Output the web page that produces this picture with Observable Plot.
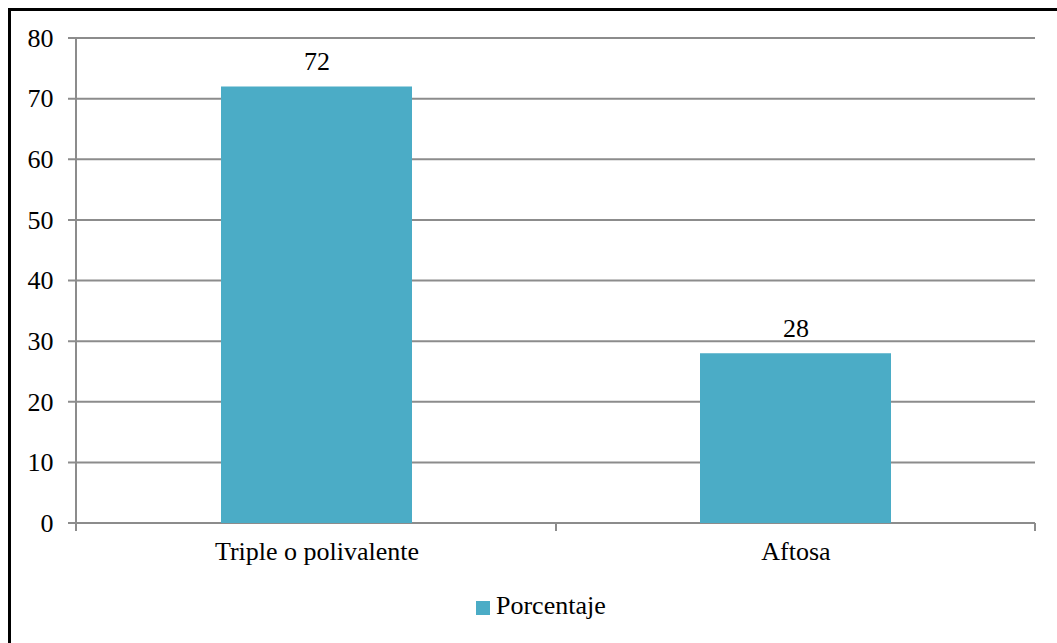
<!DOCTYPE html>
<html>
<head>
<meta charset="utf-8">
<script src="https://cdn.jsdelivr.net/npm/d3@7"></script>
<script src="https://cdn.jsdelivr.net/npm/@observablehq/plot@0.6"></script>
<style>
  html, body { margin: 0; padding: 0; background: #fff; overflow: hidden; width: 1057px; height: 643px; }
  #frame { position: absolute; left: 8px; top: 8px; width: 1200px; height: 800px; border: 3px solid #000; box-sizing: border-box; }
  #chart { position: absolute; left: 0; top: 0; }
  #legend { position: absolute; left: 476px; top: 593px; height: 26px; font-family: "Liberation Serif", "Times New Roman", serif; font-size: 26px; line-height: 26px; color: #000; }
  #legend .sw { position: absolute; left: 0; top: 8px; width: 14px; height: 14px; }
  #legend .lb { position: absolute; left: 20px; top: 0; white-space: nowrap; }
</style>
</head>
<body>
<div id="frame"></div>
<div id="chart"></div>
<div id="legend"></div>
<script>
const categories = ["Triple o polivalente", "Aftosa"];
const values = [72, 28];
const yTicks = [0, 10, 20, 30, 40, 50, 60, 70, 80];
const seriesName = "Porcentaje";
const barColor = "#4BACC6";
const gridColor = "#8c8c8c";

const data = categories.map((c, i) => ({category: c, value: values[i]}));

function frameMark(index, scales, vals, dims) {
  const g = d3.create("svg:g");
  const x0 = dims.marginLeft, x1 = dims.width - dims.marginRight;
  const yS = scales.y, xS = scales.x;
  const bw = typeof xS.bandwidth === "function" ? xS.bandwidth() : xS.bandwidth;
  for (const t of yTicks) {
    g.append("line").attr("x1", x0 - 8).attr("x2", x1)
      .attr("y1", yS(t)).attr("y2", yS(t))
      .attr("stroke", gridColor).attr("stroke-width", 2);
  }
  const yBottom = yS(yTicks[0]), yTop = yS(yTicks[yTicks.length - 1]);
  g.append("line").attr("x1", x0).attr("x2", x0)
    .attr("y1", yTop).attr("y2", yBottom + 8)
    .attr("stroke", gridColor).attr("stroke-width", 2);
  const seps = [x0];
  for (let i = 0; i < categories.length - 1; i++) {
    seps.push((xS(categories[i]) + bw + xS(categories[i + 1])) / 2);
  }
  seps.push(x1);
  for (const s of seps) {
    g.append("line").attr("x1", s).attr("x2", s)
      .attr("y1", yBottom).attr("y2", yBottom + 8)
      .attr("stroke", gridColor).attr("stroke-width", 2);
  }
  return g.node();
}

const plot = Plot.plot({
  width: 1057,
  height: 580,
  marginLeft: 76,
  marginRight: 22,
  marginTop: 38,
  marginBottom: 57,
  style: {fontFamily: '"Liberation Serif", "Times New Roman", serif', fontSize: "26px", color: "#000", background: "transparent", overflow: "visible"},
  x: {domain: categories, paddingInner: 0.602, paddingOuter: 0.301, align: 0.5, tickSize: 0, tickPadding: 18, label: null},
  y: {domain: [0, 80], ticks: yTicks, tickSize: 0, tickPadding: 23, label: null, tickFormat: d => String(d)},
  marks: [
    frameMark,
    Plot.barY(data, {x: "category", y: "value", fill: barColor}),
    Plot.text(data, {x: "category", y: "value", text: d => String(d.value), dy: -25, fontSize: 26, fill: "#000"})
  ]
});
document.getElementById("chart").appendChild(plot);

const legend = document.getElementById("legend");
const sw = document.createElement("div");
sw.className = "sw";
sw.style.background = barColor;
legend.appendChild(sw);
const lb = document.createElement("div");
lb.className = "lb";
lb.textContent = seriesName;
legend.appendChild(lb);
</script>
</body>
</html>
